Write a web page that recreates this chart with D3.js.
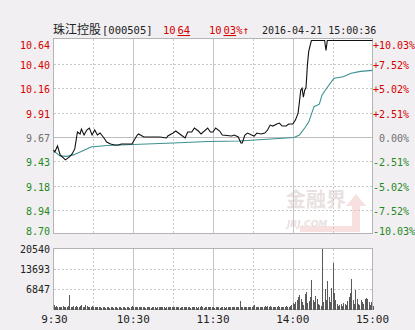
<!DOCTYPE html>
<html><head><meta charset="utf-8">
<script src="https://cdn.jsdelivr.net/npm/d3@7"></script>
<style>
html,body{margin:0;padding:0;background:#f1eff1;}
svg{display:block;}
</style></head>
<body>
<svg id="c" width="415" height="330"></svg>
<script>
// ---------- data ----------
const stockName = "珠江控股";
const stockCode = "[000505]";
const lastPrice = "10.64";
const changePct = "10.03%";
const stamp = "2016-04-21 15:00:36";
const preClose = 9.67;

const priceTicks = [10.64, 10.40, 10.16, 9.91, 9.67, 9.43, 9.18, 8.94, 8.70];
const pctTicks = ["+10.03%", "+7.52%", "+5.02%", "+2.51%", "0.00%", "-2.51%", "-5.02%", "-7.52%", "-10.03%"];
const volTicks = [20540, 13693, 6847];
const timeLabels = ["9:30", "10:30", "11:30", "14:00", "15:00"];

const priceTimes = ["09:30","09:31","09:33","09:35","09:39","09:42","09:44","09:46","09:48","09:50","09:51","09:53","09:55","09:57","09:59","10:01","10:03","10:05","10:08","10:10","10:13","10:16","10:19","10:21","10:25","10:29","10:33","10:34","10:38","10:43","10:50","10:55","10:56","11:00","11:02","11:06","11:09","11:11","11:14","11:16","11:19","11:21","11:26","11:28","11:30","13:02","13:05","13:07","13:14","13:16","13:19","13:21","13:22","13:24","13:26","13:29","13:31","13:33","13:36","13:39","13:41","13:43","13:45","13:48","13:50","13:52","13:55","13:57","14:00","14:02","14:04","14:05","14:06","14:07","14:08","14:09","14:10","14:11","14:12","14:14","14:24","14:25","14:26","15:00"];
const prices = [9.54,9.52,9.58,9.49,9.44,9.47,9.50,9.55,9.72,9.70,9.75,9.69,9.74,9.76,9.69,9.74,9.69,9.71,9.66,9.62,9.60,9.59,9.59,9.60,9.60,9.60,9.69,9.70,9.67,9.67,9.67,9.66,9.68,9.71,9.73,9.69,9.66,9.72,9.72,9.76,9.73,9.70,9.76,9.72,9.72,9.76,9.73,9.69,9.68,9.69,9.67,9.61,9.61,9.69,9.71,9.69,9.68,9.71,9.70,9.71,9.74,9.79,9.78,9.80,9.81,9.78,9.78,9.80,9.80,9.84,9.91,10.02,10.14,10.16,10.07,10.14,10.17,10.39,10.53,10.64,10.64,10.54,10.64,10.64];

const avgTimes = ["09:30","09:35","09:40","09:45","09:50","09:55","09:58","10:10","10:30","11:00","11:26","13:20","14:01","14:05","14:09","14:12","14:16","14:20","14:22","14:26","14:31","14:38","14:44","14:51","15:00"];
const avgPrices = [9.53,9.48,9.475,9.49,9.52,9.55,9.57,9.585,9.595,9.61,9.625,9.63,9.665,9.69,9.76,9.82,9.975,10.00,10.09,10.17,10.26,10.275,10.31,10.33,10.34];

// one value per minute, 09:30 .. 15:00
const volumes = [
1600,900,1100,800,1000,700,900,1200,800,1000,
900,1300,4800,900,1000,1100,800,1200,1000,900,
1100,1400,900,1000,1500,1200,800,1000,900,1300,
800,700,900,700,800,700,600,800,700,600,
700,800,600,700,700,600,800,700,600,700,
700,600,700,800,600,700,700,600,1000,1300,
900,800,700,800,700,900,700,700,800,600,
700,800,700,600,700,700,800,600,700,700,
900,700,800,700,600,1000,700,800,700,700,
800,700,700,1000,700,600,700,800,700,900,
700,800,700,600,700,700,900,800,600,700,
700,1100,700,600,800,700,700,900,700,800,
700,600,700,800,700,600,700,700,800,600,
700,800,700,900,700,800,700,700,800,900,
2700,800,700,700,900,800,700,800,700,900,
1100,1500,1000,900,800,900,1000,800,900,1100,
1000,1200,900,1100,1000,900,800,1000,900,1100,
800,900,1000,800,900,1200,800,1000,1300,1500,
2100,1800,2500,3200,4300,4800,3700,2600,1500,5200,
6000,2100,2800,4200,9800,3300,2500,4500,3700,2000,
1400,1100,20540,2600,6900,3300,9500,4200,2500,7100,
15500,5600,3200,1800,1200,1500,1900,1300,2100,1700,
1500,2900,4300,5600,10400,3200,1900,6500,3600,2000,
1400,3100,2500,1700,3500,3800,3400,2600,1500,2600,
1300];

// ---------- helpers ----------
function toIndex(t){
  const [h,m] = t.split(":").map(Number);
  const mins = h*60+m;
  return mins <= 690 ? mins-570 : mins-780+120;
}

const svg = d3.select("#c");
const L = 53.5, R = 372.5, T = 38.5, B = 233.5;
const VT = 248.5, VB = 309.5;

const x = d3.scaleLinear().domain([0,240]).range([L,R]);
const y = d3.scaleLinear().domain([8.70,10.64]).range([B,40.5]);
const yv = d3.scaleLinear().domain([0,20540]).range([VB,VT]);

const RED="#d40000", GREEN="#1f8a1f", GRAY="#707070";
const NUMFONT = "'DejaVu Sans Mono', 'Liberation Mono', monospace";

// plot backgrounds
svg.append("rect").attr("x",L).attr("y",T).attr("width",R-L).attr("height",B-T).attr("fill","#fff");
svg.append("rect").attr("x",L).attr("y",VT).attr("width",R-L).attr("height",VB-VT).attr("fill","#fff");

// watermark
const wm = svg.append("g").attr("opacity",0.55);
wm.append("path").attr("d","M300,226 L352,226 L352,206 L346,206 L356,194 L366,206 L360,206 L360,232 L300,232 Z")
  .attr("fill","#f4c8c8");
wm.append("text").attr("x",286).attr("y",207).attr("font-family","'Noto Sans CJK SC'").attr("font-weight","bold")
  .attr("font-size",20).attr("fill","#d8c8c8").text("金融界");
wm.append("text").attr("x",287).attr("y",227).attr("font-family","'DejaVu Sans'").attr("font-weight","bold").attr("font-style","italic")
  .attr("font-size",9).attr("fill","#d8c8c8").text("JRJ.COM");

// vertical grid (both panels)
const vx = d3.range(0,9).map(i=>x(i*30));
[[T,B],[VT,VB]].forEach(([t,b])=>{
  vx.forEach((px,i)=>{
    if(i===0||i===8) return;
    const solid = (i%2===0);
    svg.append("line").attr("x1",Math.round(px)+0.5).attr("x2",Math.round(px)+0.5).attr("y1",t).attr("y2",b)
      .attr("stroke", solid?"#c4c4c4":"#c8c8c8").attr("stroke-dasharray", solid?null:"2,2")
      .attr("shape-rendering","crispEdges");
  });
});

// horizontal price grid
priceTicks.forEach((p,i)=>{
  if(i===0||i===priceTicks.length-1) return;
  const py = Math.round(y(p))+0.5;
  const mid = (i===4);
  svg.append("line").attr("x1",L).attr("x2",R).attr("y1",py).attr("y2",py)
    .attr("stroke", mid?"#bdbdbd":"#c8c8c8").attr("stroke-dasharray", mid?null:"2,2")
    .attr("shape-rendering","crispEdges");
});
// horizontal volume grid
volTicks.slice(1).forEach(v=>{
  const py = Math.round(yv(v))+0.5;
  svg.append("line").attr("x1",L).attr("x2",R).attr("y1",py).attr("y2",py)
    .attr("stroke","#c8c8c8").attr("stroke-dasharray","2,2").attr("shape-rendering","crispEdges");
});

// borders
svg.append("rect").attr("x",L).attr("y",T).attr("width",R-L).attr("height",B-T)
  .attr("fill","none").attr("stroke","#b4b4b4").attr("shape-rendering","crispEdges");
svg.append("rect").attr("x",L).attr("y",VT).attr("width",R-L).attr("height",VB-VT)
  .attr("fill","none").attr("stroke","#b4b4b4").attr("shape-rendering","crispEdges");

// volume bars
svg.append("g").selectAll("rect").data(volumes).join("rect")
  .attr("x",(d,i)=>Math.round(x(i)))
  .attr("width",1)
  .attr("y",d=>yv(d))
  .attr("height",d=>VB-yv(d))
  .attr("fill","#5a5a5a")
  .attr("shape-rendering","crispEdges");

// lines
const line = d3.line().x(d=>x(toIndex(d[0]))).y(d=>y(d[1]));
svg.append("path").datum(avgTimes.map((t,i)=>[t,avgPrices[i]]))
  .attr("d",line).attr("fill","none").attr("stroke","#3d9090").attr("stroke-width",1.1);
svg.append("path").datum(priceTimes.map((t,i)=>[t,prices[i]]))
  .attr("d",line).attr("fill","none").attr("stroke","#111").attr("stroke-width",1.1);

// left price labels
priceTicks.forEach((p,i)=>{
  let cy = y(p)+1.5;
  cy = Math.max(45, Math.min(231, cy));
  const col = p>preClose+0.001 ? RED : (p<preClose-0.001 ? GREEN : GRAY);
  svg.append("text").attr("x",50).attr("y",cy).attr("dy","0.36em").attr("text-anchor","end")
    .attr("font-family",NUMFONT).attr("font-size",10).attr("fill",col).text(p.toFixed(2));
  let t = pctTicks[i];
  const pcol = t.startsWith("+") ? RED : (t.startsWith("-") ? GREEN : GRAY);
  svg.append("text").attr("x", t.startsWith("+")||t.startsWith("-") ? 373 : 379).attr("y",cy).attr("dy","0.36em")
    .attr("font-family",NUMFONT).attr("font-size",10).attr("fill",pcol).text(t);
});

// volume labels
volTicks.forEach(v=>{
  svg.append("text").attr("x",50).attr("y",yv(v)+0.5).attr("dy","0.36em").attr("text-anchor","end")
    .attr("font-family",NUMFONT).attr("font-size",10).attr("fill","#222").text(v);
});

// time labels
const timePos = [0,60,120,180,240];
timeLabels.forEach((t,i)=>{
  let px = x(timePos[i]);
  if(i===0) px += 1;
  svg.append("text").attr("x",px).attr("y",319).attr("dy","0.36em").attr("text-anchor","middle")
    .attr("font-family",NUMFONT).attr("font-size",11).attr("fill","#222").text(t);
});

// header
svg.append("text").attr("x",53).attr("y",34).attr("font-family","'Noto Sans CJK SC'").attr("font-size",12)
  .attr("fill","#222").text(stockName);
svg.append("text").attr("x",102).attr("y",34).attr("font-family",NUMFONT).attr("font-size",10.5)
  .attr("fill","#222").text(stockCode);
const pt = svg.append("text").attr("x",163).attr("y",34).attr("font-family",NUMFONT).attr("font-size",10.5).attr("fill",RED);
pt.append("tspan").text(lastPrice.split(".")[0]);
pt.append("tspan").attr("font-size",3).text(".");
pt.append("tspan").attr("text-decoration","underline").text(lastPrice.split(".")[1]);
const ct = svg.append("text").attr("x",209).attr("y",34).attr("font-family",NUMFONT).attr("font-size",10.5).attr("fill",RED);
ct.append("tspan").text(changePct.split(".")[0]);
ct.append("tspan").attr("font-size",3).text(".");
ct.append("tspan").attr("text-decoration","underline").text(changePct.split(".")[1].replace("%",""));
ct.append("tspan").text("%↑");
svg.append("text").attr("x",262).attr("y",34).attr("font-family",NUMFONT).attr("font-size",10)
  .attr("fill","#222").text(stamp);
</script>
</body></html>
